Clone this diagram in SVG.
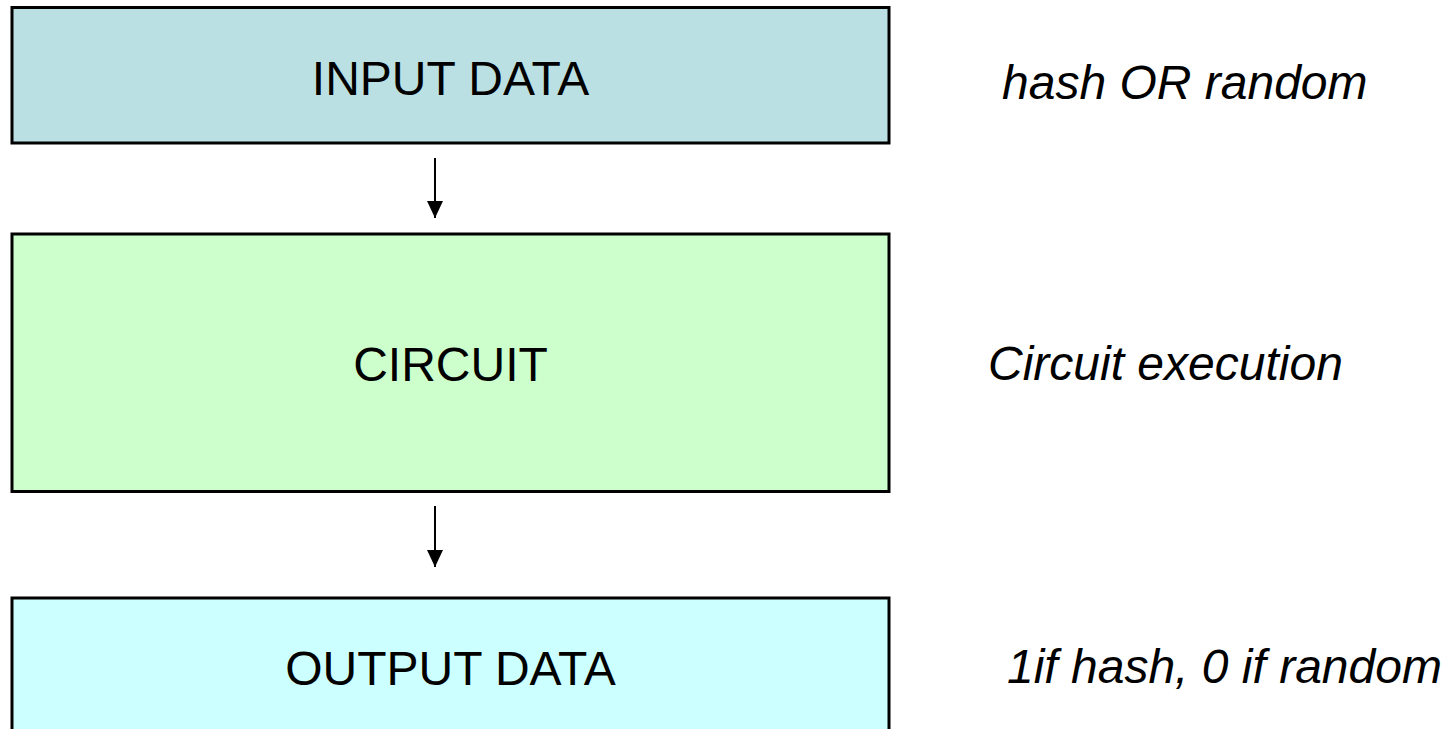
<svg xmlns="http://www.w3.org/2000/svg" width="1447" height="729" viewBox="0 0 1447 729">
<defs>
<marker id="ah" markerUnits="userSpaceOnUse" markerWidth="18" markerHeight="16" refX="17" refY="8" orient="auto" viewBox="0 0 18 16">
<path d="M0,0 L17,8 L0,16 Z" fill="#000"/>
</marker>
<style>
.box{stroke:#000;stroke-width:3}
.lbl{font-family:"Liberation Sans",Arial,sans-serif;font-size:48px;fill:#000;text-anchor:middle}
.note{font-family:"Liberation Sans",Arial,sans-serif;font-size:48px;font-style:italic;fill:#000}
.conn{stroke:#000;stroke-width:2;fill:none}
</style>
</defs>
<rect width="1447" height="729" fill="#fff"/>
<g id="input">
<rect class="box" x="12" y="7.5" width="877" height="135.5" fill="#BBE0E3"/>
<text class="lbl" x="450.5" y="95">INPUT DATA</text>
</g>
<g id="circuit">
<rect class="box" x="12" y="234" width="877" height="257.5" fill="#CCFFCC"/>
<text class="lbl" x="450.5" y="381">CIRCUIT</text>
</g>
<g id="output">
<rect class="box" x="12" y="598" width="877" height="140" fill="#CCFFFF"/>
<text class="lbl" x="450.5" y="685">OUTPUT DATA</text>
</g>
<g id="notes">
<text class="note" x="1002" y="99">hash OR random</text>
<text class="note" x="988" y="380">Circuit execution</text>
<text class="note" x="1007" y="683">1if hash, 0 if random</text>
</g>
<g id="connectors">
<line class="conn" x1="435" y1="158" x2="435" y2="218" marker-end="url(#ah)"/>
<line class="conn" x1="435" y1="506" x2="435" y2="567" marker-end="url(#ah)"/>
</g>
</svg>
